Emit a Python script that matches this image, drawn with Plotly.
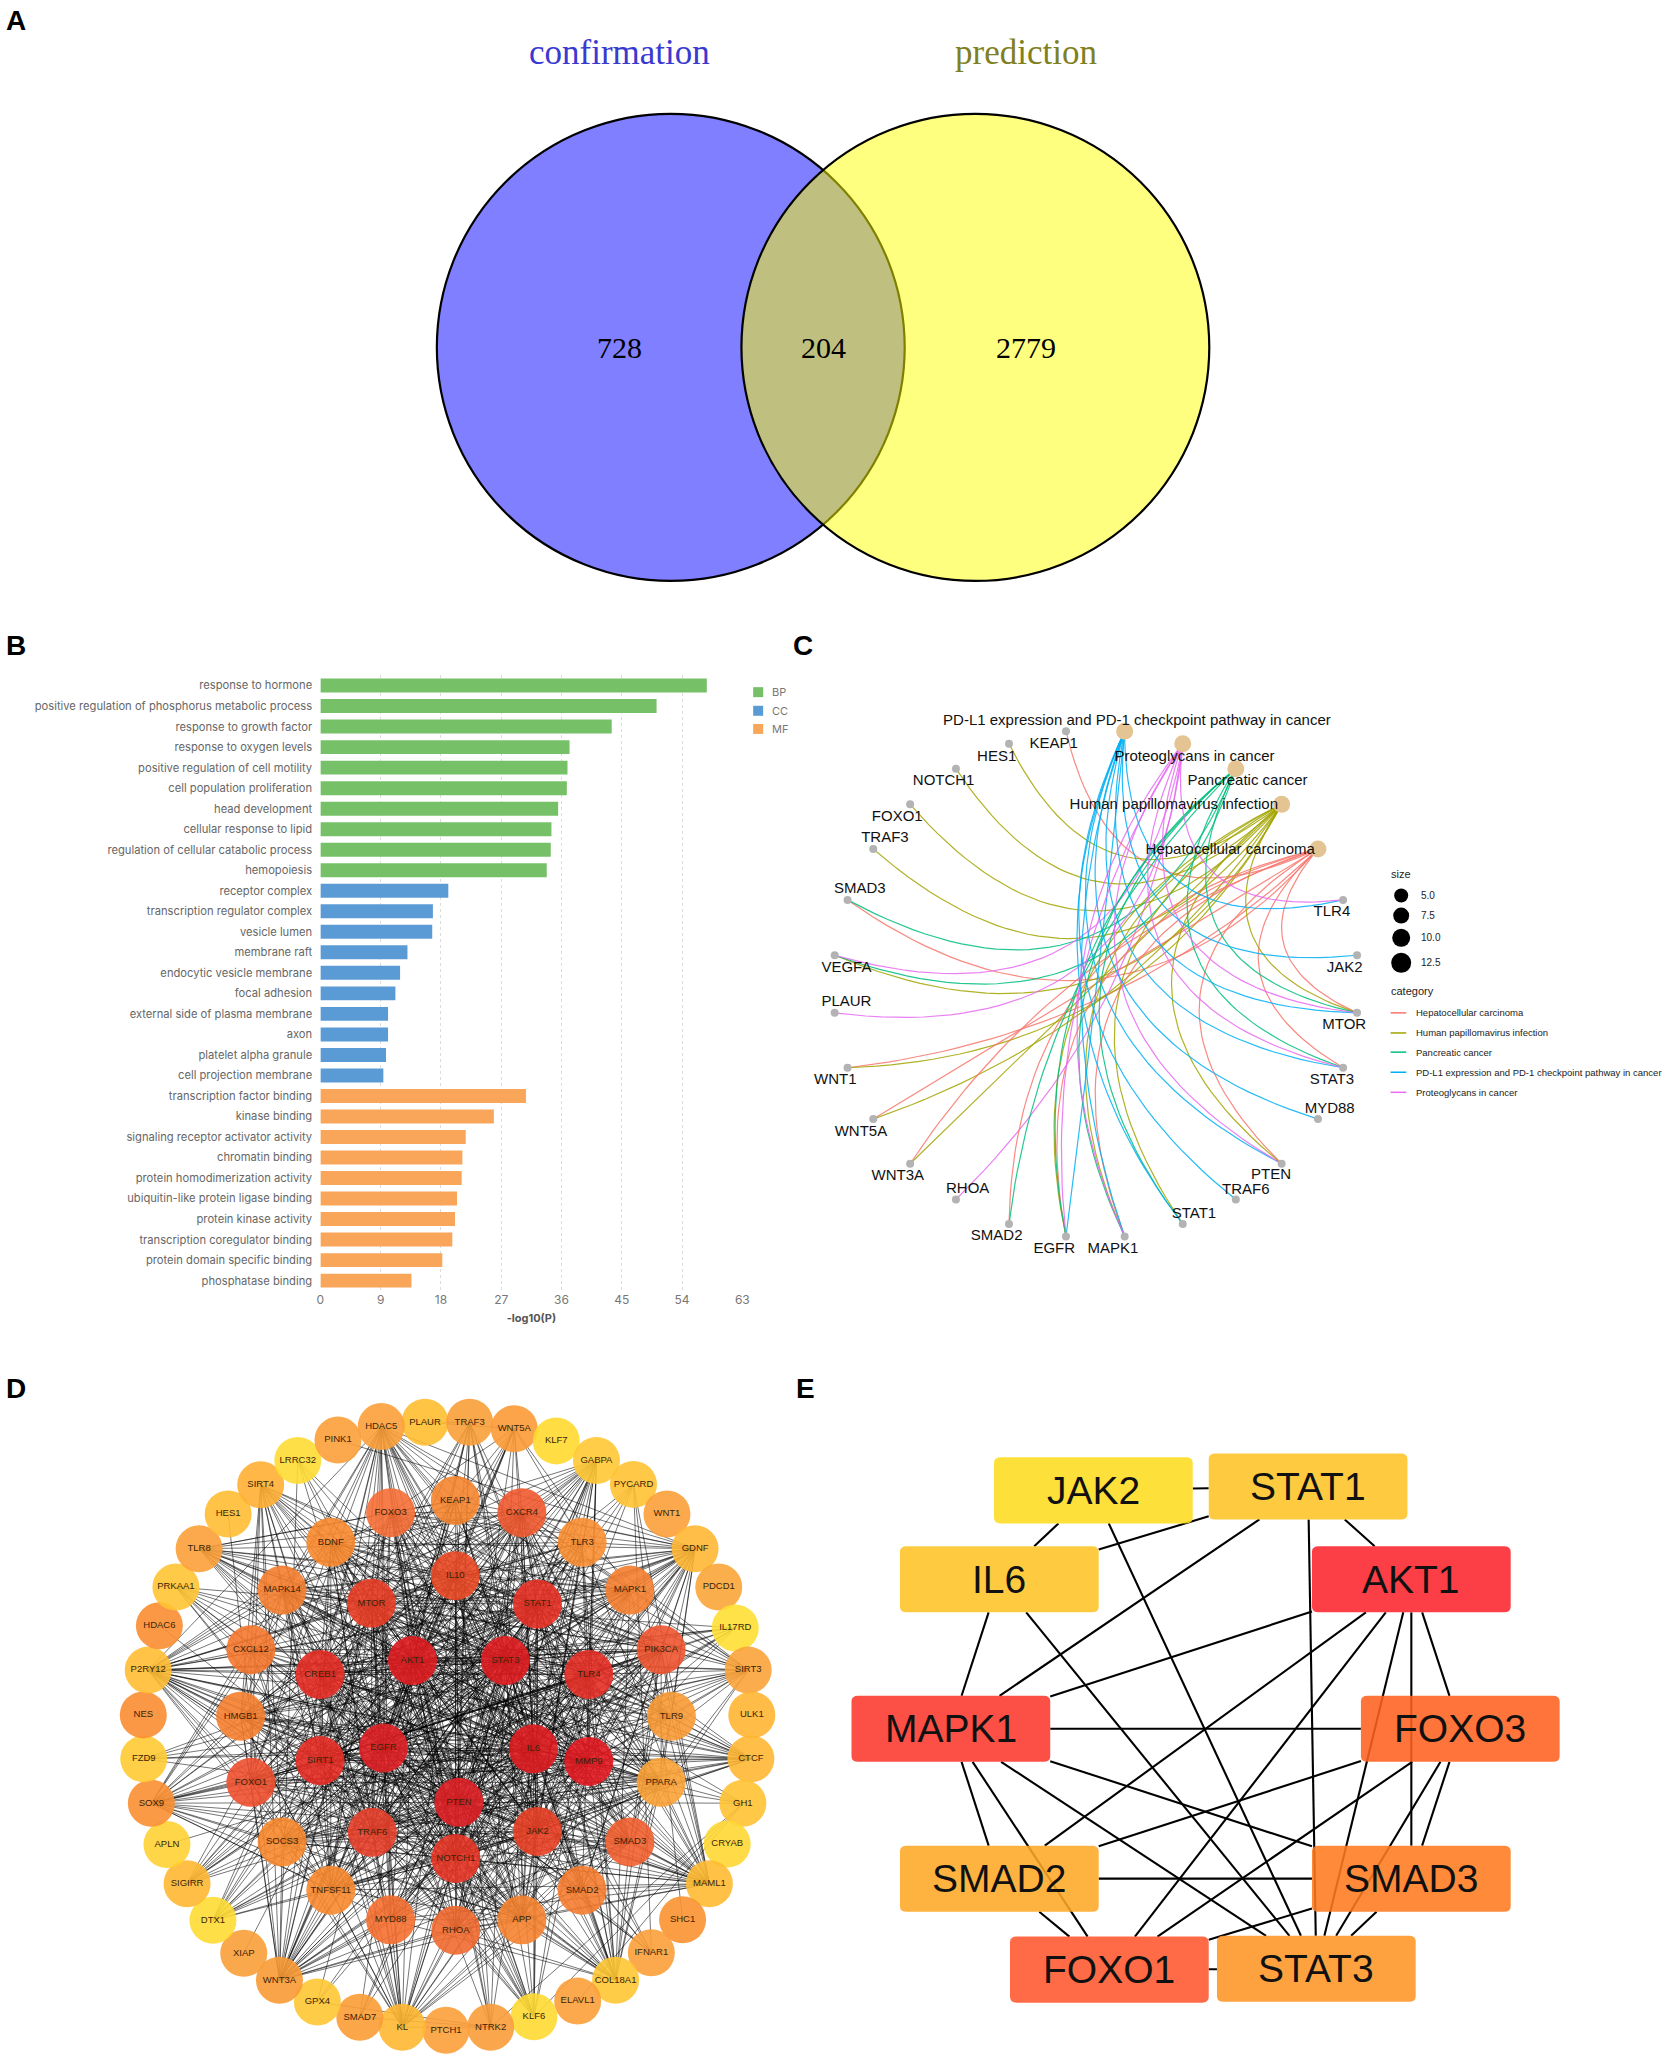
import plotly.graph_objects as go

PAGE_W, PAGE_H = 1666, 2062

# ---------- Panel A ----------
VENN_SETS = ["confirmation", "prediction"]
VENN_COUNTS = [728, 204, 2779]

# ---------- Panel B ----------
GO_BP = ["response to hormone", "positive regulation of phosphorus metabolic process", "response to growth factor",
         "response to oxygen levels", "positive regulation of cell motility", "cell population proliferation",
         "head development", "cellular response to lipid", "regulation of cellular catabolic process", "hemopoiesis"]
GO_BP_VALUES = [57.7, 50.2, 43.5, 37.2, 36.9, 36.8, 35.5, 34.5, 34.4, 33.8]
GO_CC = ["receptor complex", "transcription regulator complex", "vesicle lumen", "membrane raft",
         "endocytic vesicle membrane", "focal adhesion", "external side of plasma membrane", "axon",
         "platelet alpha granule", "cell projection membrane"]
GO_CC_VALUES = [19.1, 16.8, 16.7, 13.0, 11.9, 11.2, 10.1, 10.1, 9.8, 9.4]
GO_MF = ["transcription factor binding", "kinase binding", "signaling receptor activator activity", "chromatin binding",
         "protein homodimerization activity", "ubiquitin-like protein ligase binding", "protein kinase activity",
         "transcription coregulator binding", "protein domain specific binding", "phosphatase binding"]
GO_MF_VALUES = [30.7, 25.9, 21.7, 21.2, 21.1, 20.4, 20.1, 19.7, 18.2, 13.6]
X_TICKS = [0, 9, 18, 27, 36, 45, 54, 63]

# ---------- Panel C ----------
CATEGORIES = ["Hepatocellular carcinoma", "Human papillomavirus infection", "Pancreatic cancer",
              "PD-L1 expression and PD-1 checkpoint pathway in cancer", "Proteoglycans in cancer"]
CAT_COLORS = ["#F8766D", "#A3A500", "#00BF7D", "#00B0F6", "#E76BF3"]
CAT_NODE_X = [945, 880, 798, 599, 703]
CAT_NODE_Y = [513, 413, 333, 249, 277]
CAT_LABEL_X = [788, 687, 819, 621, 724]
CAT_LABEL_Y = [515, 415, 362, 227, 307]
GENES = ["KEAP1", "HES1", "NOTCH1", "FOXO1", "TRAF3", "SMAD3", "VEGFA", "PLAUR", "WNT1", "WNT5A", "WNT3A", "RHOA",
         "SMAD2", "EGFR", "MAPK1", "STAT1", "TRAF6", "PTEN", "MYD88", "STAT3", "MTOR", "JAK2", "TLR4"]
GENE_X = [494, 392, 297, 215, 149, 103, 80, 80, 103, 149, 215, 297, 392, 494, 599, 703, 798, 880, 945, 990, 1015, 1015, 990]
GENE_Y = [249, 277, 333, 413, 513, 627, 751, 880, 1003, 1118, 1218, 1298, 1353, 1381, 1381, 1353, 1298, 1218, 1118, 1003, 880, 751, 627]
GENE_LABEL_X = [472, 370, 275, 192, 170, 125, 101, 101, 81, 127, 193, 318, 370, 473, 578, 723, 816, 861, 966, 970, 992, 993, 970]
GENE_LABEL_Y = [278, 307, 361, 441, 489, 604, 781, 856, 1031, 1147, 1247, 1275, 1381, 1409, 1409, 1330, 1278, 1243, 1096, 1031, 907, 781, 655]
# category indices each gene belongs to
GENE_CATS = [[0], [1], [1], [1], [1], [0, 2], [1, 2, 4], [4], [0, 1], [0, 1], [0, 1], [4],
             [0, 2], [0, 1, 2, 3, 4], [0, 1, 2, 3, 4], [1, 2, 3], [3], [0, 1, 3, 4], [3],
             [0, 2, 3, 4], [0, 1, 2, 3, 4], [3], [3, 4]]
SIZE_LEGEND = [5.0, 7.5, 10.0, 12.5]

# ---------- Panel D ----------
OUTER_NAMES = ["PLAUR", "TRAF3", "WNT5A", "KLF7", "GABPA", "PYCARD", "WNT1", "GDNF", "PDCD1", "IL17RD", "SIRT3", "ULK1",
               "CTCF", "GH1", "CRYAB", "MAML1", "SHC1", "IFNAR1", "COL18A1", "ELAVL1", "KLF6", "NTRK2", "PTCH1", "KL",
               "SMAD7", "GPX4", "WNT3A", "XIAP", "DTX1", "SIGIRR", "APLN", "SOX9", "FZD9", "NES", "P2RY12", "HDAC6",
               "PRKAA1", "TLR8", "HES1", "SIRT4", "LRRC32", "PINK1", "HDAC5"]
OUTER_X = [728, 828, 928, 1022, 1112, 1195, 1270, 1333, 1386, 1423, 1452, 1460, 1458, 1440, 1405, 1365, 1305, 1235, 1155,
           1070, 972, 875, 775, 677, 582, 487, 402, 322, 253, 195, 150, 115, 98, 97, 108, 133, 170, 222, 287, 360, 443, 533, 630]
OUTER_Y = [97, 97, 112, 140, 185, 240, 308, 388, 476, 570, 667, 770, 871, 973, 1067, 1158, 1241, 1317, 1380,
           1428, 1464, 1488, 1495, 1488, 1465, 1430, 1380, 1318, 1242, 1158, 1068, 973, 871, 770, 667, 565, 476, 388, 308, 241, 185, 138, 107]
OUTER_COLORS = ["#FFBE30", "#FA9F38", "#FB9A35", "#FFD92F", "#FFC833", "#FFC233", "#FBA038", "#FFB733", "#FBA538", "#FFDF33",
                "#FBA338", "#FFB633", "#FFB733", "#FFC233", "#FFD733", "#FFBB33", "#FA9230", "#FBA038", "#FFC733",
                "#FBA038", "#FFD933", "#FA9C38", "#FBA038", "#FFB833", "#FA9C35", "#FFC733", "#FA9A35", "#FA9E38", "#FFDB33",
                "#FFB833", "#FFD233", "#F98F32", "#FFCB33", "#F98D32", "#FFBC33", "#F98D32", "#FFC433", "#FBA038", "#FFBE33",
                "#FFB033", "#FFDC33", "#FBA038", "#FBA038"]
MID_NAMES = ["FOXO3", "KEAP1", "CXCR4", "TLR3", "MAPK1", "PIK3CA", "TLR9", "PPARA", "SMAD3", "SMAD2", "APP", "RHOA", "MYD88",
             "TNFSF11", "SOCS3", "FOXO1", "HMGB1", "CXCL12", "MAPK14", "BDNF"]
MID_X = [651, 796, 945, 1080, 1187, 1257, 1280, 1257, 1187, 1080, 945, 797, 651, 517, 408, 338, 315, 338, 408, 517]
MID_Y = [305, 277, 305, 373, 483, 620, 773, 925, 1062, 1173, 1241, 1265, 1241, 1173, 1062, 925, 773, 620, 483, 373]
MID_COLORS = ["#F56E35", "#F5852F", "#EF5A30", "#F98F32", "#F5802F", "#EE5530", "#FA9A35", "#FBA235", "#F26030", "#F57D30",
              "#F5822F", "#F26A30", "#F57030", "#F8882F", "#F8882F", "#EE5030", "#F5802F", "#F5782F", "#F5802F", "#F8882F"]
INNER_NAMES = ["IL10", "STAT1", "TLR4", "MMP9", "JAK2", "NOTCH1", "TRAF6", "SIRT1", "CREB1", "MTOR"]
INNER_X = [796, 980, 1095, 1095, 980, 797, 610, 493, 493, 608]
INNER_Y = [450, 515, 677, 877, 1038, 1100, 1040, 875, 677, 513]
INNER_COLORS = ["#EA4A25", "#E63025", "#E62F25", "#E0181F", "#E84025", "#E63525", "#E8402A", "#E52C25", "#E52C25", "#E83C25"]
CORE_NAMES = ["AKT1", "STAT3", "IL6", "PTEN", "EGFR"]
CORE_X = [700, 908, 971, 804, 635]
CORE_Y = [645, 645, 848, 971, 846]
CORE_COLORS = ["#E01C20", "#E01C20", "#E01C20", "#E02025", "#E02025"]
# The individual PPI edges cannot be read off the dense hairball. They are approximated here:
# share of node pairs linked (percent) for each ring pair, selected by a fixed stride, not read from the picture.
RING_LINK_PERCENT = {(0, 0): 3, (0, 1): 22, (1, 1): 45, (0, 2): 38, (1, 2): 80, (2, 2): 100,
                     (0, 3): 65, (1, 3): 100, (2, 3): 100, (3, 3): 100}

# ---------- Panel E ----------
HUB_NAMES = ["JAK2", "STAT1", "IL6", "AKT1", "MAPK1", "FOXO3", "SMAD2", "SMAD3", "FOXO1", "STAT3"]
HUB_X = [564, 1007, 370, 1220, 270, 1321, 370, 1220, 597, 1024]
HUB_Y = [178, 168, 403, 403, 781, 781, 1160, 1160, 1390, 1388]
HUB_COLORS = ["#FDE03A", "#FECB3F", "#FECB3F", "#FC3D45", "#FC4F45", "#FE743A", "#FEB23F", "#FE8A3A", "#FE6A45", "#FEA23F"]
HUB_EDGES = [("JAK2", "STAT1"), ("JAK2", "IL6"), ("JAK2", "STAT3"), ("STAT1", "IL6"), ("STAT1", "MAPK1"), ("STAT1", "STAT3"),
             ("STAT1", "AKT1"), ("IL6", "MAPK1"), ("IL6", "STAT3"), ("AKT1", "MAPK1"), ("AKT1", "SMAD2"), ("AKT1", "FOXO1"),
             ("AKT1", "STAT3"), ("AKT1", "SMAD3"), ("AKT1", "FOXO3"), ("MAPK1", "FOXO3"), ("MAPK1", "SMAD2"), ("MAPK1", "FOXO1"),
             ("MAPK1", "STAT3"), ("MAPK1", "SMAD3"), ("FOXO3", "SMAD2"), ("FOXO3", "FOXO1"), ("FOXO3", "STAT3"), ("FOXO3", "SMAD3"),
             ("SMAD2", "SMAD3"), ("SMAD2", "FOXO1"), ("SMAD3", "FOXO1"), ("SMAD3", "STAT3"), ("FOXO1", "STAT3")]

SANS = "Liberation Sans"
fig = go.Figure()
layout = dict(width=PAGE_W, height=PAGE_H, margin=dict(l=0, r=0, t=0, b=0, autoexpand=False), paper_bgcolor="white",
              plot_bgcolor="rgba(0,0,0,0)", showlegend=False, barmode="overlay", hovermode=False)
annotations, shapes = [], []


def panel_axes(n, px, py, pw, ph, full=1568):
    """Axis pair n covers a page rectangle; its units are 0..full along the x and y sides of the rectangle."""
    layout[f"xaxis{n}"] = dict(domain=[px / PAGE_W, (px + pw) / PAGE_W], range=[0, full], visible=False, fixedrange=True, automargin=False)
    layout[f"yaxis{n}"] = dict(domain=[1 - (py + ph) / PAGE_H, 1 - py / PAGE_H], range=[full, 0], visible=False, fixedrange=True, automargin=False)
    return f"x{n}", f"y{n}"


def note(text, xr, yr, x, y, size, color="black", family=SANS, anchor="center"):
    annotations.append(dict(text=text, x=x, y=y, xref=xr, yref=yr, showarrow=False, xanchor=anchor, yanchor="middle",
                            font=dict(family=family, size=size, color=color)))


# Panel letters
for letter, lx, ly in [("A", 16, 20), ("B", 16, 645), ("C", 803, 645), ("D", 16, 1388), ("E", 805, 1388)]:
    note(f"<b>{letter}</b>", "paper", "paper", lx / PAGE_W, 1 - ly / PAGE_H, 28)

# ---------- Panel B: bars ----------
order = GO_BP + GO_CC + GO_MF
for names, vals, col in [(GO_BP, GO_BP_VALUES, "#76C068"), (GO_CC, GO_CC_VALUES, "#5B9BD5"), (GO_MF, GO_MF_VALUES, "#F9A65A")]:
    fig.add_trace(go.Bar(x=vals, y=names, orientation="h", width=0.68, marker=dict(color=col, line_width=0)))
layout["xaxis"] = dict(domain=[320.4 / PAGE_W, 742.3 / PAGE_W], range=[0, 63], tickmode="array", tickvals=X_TICKS, showgrid=True,
                       gridcolor="#DCDCDC", griddash="dot", gridwidth=1, showline=False, zeroline=False, ticks="", automargin=False,
                       tickfont=dict(family="Inter", size=12, color="#777777"), fixedrange=True, anchor="y",
                       title=dict(text="<b>-log10(P)</b>", font=dict(family="Inter", size=11, color="#555555"), standoff=8))
layout["yaxis"] = dict(domain=[1 - 1290.9 / PAGE_H, 1 - 675.3 / PAGE_H], type="category", categoryorder="array", categoryarray=order,
                       range=[29.5, -0.5], showgrid=False, showline=False, zeroline=False, ticks="outside", ticklen=5, automargin=False,
                       tickcolor="rgba(0,0,0,0)", tickmode="array", tickvals=order, ticktext=order,
                       tickfont=dict(family="Inter", size=11.2, color="#666666"), fixedrange=True, anchor="x")
xb, yb = panel_axes(3, 0, 620, 800, 730)
for name, y, col in zip(["BP", "CC", "MF"], [155, 195, 234], ["#76C068", "#5B9BD5", "#F9A65A"]):
    fig.add_trace(go.Scatter(x=[1486], y=[y], xaxis=xb, yaxis=yb, mode="markers", marker=dict(symbol="square", size=10, color=col)))
    note(name, xb, yb, 1509, y, 11, "#777777", "Inter", "left")

# ---------- Panel A: Venn ----------
xa, ya = panel_axes(2, 420, 20, 800, 570)
for x0, x1, fill in [(33, 950, "rgba(0,0,255,0.5)"), (630, 1547, "rgba(255,255,0,0.5)")]:
    shapes.append(dict(type="circle", xref=xa, yref=ya, x0=x0, x1=x1, y0=258, y1=1543, fillcolor=fill,
                       line=dict(color="black", width=2.2), layer="above"))
note(VENN_SETS[0], xa, ya, 391, 90, 35, "#3A3AD0", "Liberation Serif")
note(VENN_SETS[1], xa, ya, 1187, 90, 35, "#80801E", "Liberation Serif")
for v, x in zip(VENN_COUNTS, [391, 790, 1188]):
    note(str(v), xa, ya, x, 902, 30, "black", "Liberation Serif")

# ---------- Panel C: gene-concept network ----------
xc, yc = panel_axes(4, 790, 620, 876, 700)
CX, CY, RX, RY = 547.5, 815, 471, 570


def curve(ax, ay, bx, by, steps=40):
    """Arc between two ring nodes, pulled toward the ring centre."""
    ux, uy, vx, vy = (ax - CX) / RX, (ay - CY) / RY, (bx - CX) / RX, (by - CY) / RY
    mx, my = (ux + vx) / 2, (uy + vy) / 2
    d = (mx * mx + my * my) ** 0.5
    length = ((ux - vx) ** 2 + (uy - vy) ** 2) ** 0.5
    pull = 2 * length * 0.32 * (1 - (1 - min(d, 1)) ** 2) ** 0.85
    qx, qy = mx - mx / max(d, 1e-6) * pull, my - my / max(d, 1e-6) * pull
    xs, ys = [], []
    for k in range(steps + 1):
        t = k / steps
        px = (1 - t) ** 2 * ux + 2 * t * (1 - t) * qx + t * t * vx
        py = (1 - t) ** 2 * uy + 2 * t * (1 - t) * qy + t * t * vy
        xs.append(CX + px * RX)
        ys.append(CY + py * RY)
    return xs, ys


for g, cats in enumerate(GENE_CATS):
    for c in cats:
        xs, ys = curve(GENE_X[g], GENE_Y[g], CAT_NODE_X[c], CAT_NODE_Y[c])
        fig.add_trace(go.Scatter(x=xs, y=ys, xaxis=xc, yaxis=yc, mode="lines", opacity=0.85, line=dict(color=CAT_COLORS[c], width=1.2)))
fig.add_trace(go.Scatter(x=GENE_X, y=GENE_Y, xaxis=xc, yaxis=yc, mode="markers", marker=dict(size=8, color="#B3B3B3")))
fig.add_trace(go.Scatter(x=CAT_NODE_X, y=CAT_NODE_Y, xaxis=xc, yaxis=yc, mode="markers", marker=dict(size=17, color="#E5C494")))
fig.add_trace(go.Scatter(x=GENE_LABEL_X, y=GENE_LABEL_Y, text=GENES, xaxis=xc, yaxis=yc, mode="text", textposition="middle center",
                         textfont=dict(family=SANS, size=15, color="#111111")))
fig.add_trace(go.Scatter(x=CAT_LABEL_X, y=CAT_LABEL_Y, text=CATEGORIES, xaxis=xc, yaxis=yc, mode="text", textposition="middle center",
                         textfont=dict(family=SANS, size=15, color="#111111"), cliponaxis=False))
note("size", xc, yc, 1072, 570, 11, "#222222", SANS, "left")
for v, y, s in zip(SIZE_LEGEND, [617, 662, 712, 768], [14, 16, 18, 20]):
    fig.add_trace(go.Scatter(x=[1094], y=[y], xaxis=xc, yaxis=yc, mode="markers", marker=dict(size=s, color="black")))
    note(f"{v:.1f}", xc, yc, 1125, y, 10, "#222222", SANS, "left")
note("category", xc, yc, 1072, 830, 11, "#222222", SANS, "left")
for name, col, y in zip(CATEGORIES, CAT_COLORS, [880, 925, 968, 1013, 1058]):
    fig.add_trace(go.Scatter(x=[1075, 1103], y=[y, y], xaxis=xc, yaxis=yc, mode="lines", line=dict(color=col, width=1.5)))
    note(name, xc, yc, 1117, y, 9.5, "#222222", SANS, "left")

# ---------- Panel D: PPI network ----------
xd, yd = panel_axes(5, 100, 1380, 700, 682)
rings = [(OUTER_NAMES, OUTER_X, OUTER_Y, OUTER_COLORS), (MID_NAMES, MID_X, MID_Y, MID_COLORS),
         (INNER_NAMES, INNER_X, INNER_Y, INNER_COLORS), (CORE_NAMES, CORE_X, CORE_Y, CORE_COLORS)]
nx, ny, nring = [], [], []
for r, (names, xs, ys, cols) in enumerate(rings):
    nx += xs
    ny += ys
    nring += [r] * len(names)
for i in range(len(nx)):
    ex, ey = [], []
    for j in range(i + 1, len(nx)):
        key = (nring[i], nring[j])
        if (i * 37 + j * 101) % 100 < RING_LINK_PERCENT[key]:
            ex += [nx[i], nx[j], None]
            ey += [ny[i], ny[j], None]
    if ex:
        fig.add_trace(go.Scatter(x=ex, y=ey, xaxis=xd, yaxis=yd, mode="lines", line=dict(color="rgba(0,0,0,0.6)", width=0.9)))
for (names, xs, ys, cols), size in zip(rings, [47, 49, 49, 49]):
    fig.add_trace(go.Scatter(x=xs, y=ys, text=names, xaxis=xd, yaxis=yd, mode="markers+text", textposition="middle center",
                             cliponaxis=False, marker=dict(size=size, color=cols, opacity=0.9, line_width=0),
                             textfont=dict(family=SANS, size=9.5, color="#3A2408")))

# ---------- Panel E: hub genes ----------
xe, ye = panel_axes(6, 820, 1420, 760, 620)
HW, HH = 205, 83.5
idx = {n: i for i, n in enumerate(HUB_NAMES)}


def border_t(dx, dy):
    tx = HW / abs(dx) if dx else 1e9
    ty = HH / abs(dy) if dy else 1e9
    return min(tx, ty)


for a, b in HUB_EDGES:
    ax, ay, bx, by = HUB_X[idx[a]], HUB_Y[idx[a]], HUB_X[idx[b]], HUB_Y[idx[b]]
    dx, dy = bx - ax, by - ay
    t = border_t(dx, dy)
    fig.add_trace(go.Scatter(x=[ax + dx * t, bx - dx * t], y=[ay + dy * t, by - dy * t], xaxis=xe, yaxis=ye, mode="lines",
                             line=dict(color="black", width=2.1)))
ALPHA = 0.88
for name, x, y, col in zip(HUB_NAMES, HUB_X, HUB_Y, HUB_COLORS):
    rgb = [int(col[i:i + 2], 16) for i in (1, 3, 5)]
    c = [max(0, round((v - 255 * (1 - ALPHA)) / ALPHA)) for v in rgb]
    l, r, t, b, q = x - HW, x + HW, y - HH, y + HH, 14
    path = (f"M{l+q},{t} L{r-q},{t} Q{r},{t} {r},{t+q} L{r},{b-q} Q{r},{b} {r-q},{b} L{l+q},{b} Q{l},{b} {l},{b-q} "
            f"L{l},{t+q} Q{l},{t} {l+q},{t} Z")
    shapes.append(dict(type="path", path=path, xref=xe, yref=ye, line_width=0, layer="above",
                       fillcolor=f"rgba({c[0]},{c[1]},{c[2]},{ALPHA})"))
    note(name, xe, ye, x, y, 39, "#111111")

layout["annotations"] = annotations
layout["shapes"] = shapes
fig.update_layout(**layout)
fig.write_html("out.html", config=dict(displayModeBar=False), post_script="document.body.style.margin='0';")
